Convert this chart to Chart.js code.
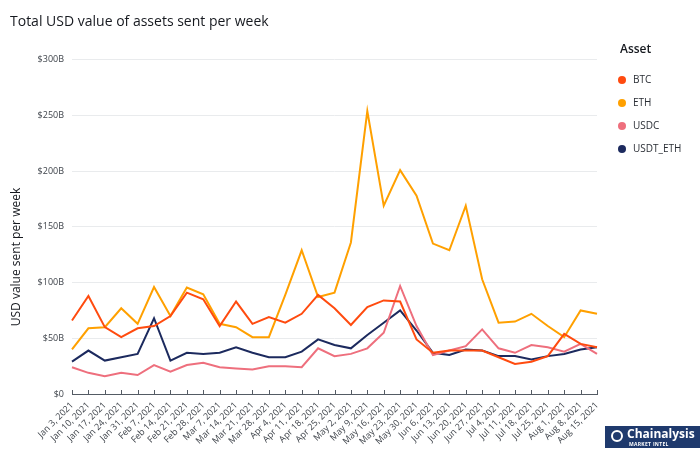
<!DOCTYPE html>
<html>
<head>
<meta charset="utf-8">
<script src="https://cdn.jsdelivr.net/npm/chart.js@4"></script>
<style>
  html, body { margin: 0; padding: 0; background: #ffffff; }
  #wrap { position: relative; width: 700px; height: 451px; overflow: hidden; font-family: "Open Sans", sans-serif; }
  #c { position: absolute; left: 0; top: 0; }
  #legend { position: absolute; left: 620px; top: 40px; color: #16191f; }
  #legend .ttl { font-size: 12px; font-weight: 600; line-height: 18px; margin-bottom: 14px; }
  #legend .item { position: relative; height: 23px; font-size: 10px; line-height: 14px; color: #2a2e35; }
  #legend .dot { position: absolute; left: -2px; top: 3.5px; width: 8px; height: 8px; border-radius: 50%; }
  #legend .lbl { position: absolute; left: 13px; top: 0; white-space: nowrap; }
  #logo { position: absolute; left: 605px; top: 426px; width: 95px; height: 22px; background: #1f3a6d; color: #fff; }
  #logo .icon { position: absolute; left: 6px; top: 4px; width: 12px; height: 12px; border-radius: 50%; border: 2px solid #fff; box-sizing: border-box; }
  #logo .name { position: absolute; left: 22px; top: 1px; font-size: 12px; font-weight: 700; line-height: 14px; white-space: nowrap; }
  #logo .sub { position: absolute; left: 24px; top: 15px; font-size: 5px; font-weight: 700; line-height: 6px; letter-spacing: 0.3px; white-space: nowrap; }
</style>
</head>
<body>
<div id="wrap">
  <canvas id="c" width="700" height="451"></canvas>
  <div id="legend"></div>
  <div id="logo"><div class="icon"></div><div class="name">Chainalysis</div><div class="sub">MARKET INTEL</div></div>
</div>
<script>
const weeks = ["Jan 3, 2021","Jan 10, 2021","Jan 17, 2021","Jan 24, 2021","Jan 31, 2021","Feb 7, 2021","Feb 14, 2021","Feb 21, 2021","Feb 28, 2021","Mar 7, 2021","Mar 14, 2021","Mar 21, 2021","Mar 28, 2021","Apr 4, 2021","Apr 11, 2021","Apr 18, 2021","Apr 25, 2021","May 2, 2021","May 9, 2021","May 16, 2021","May 23, 2021","May 30, 2021","Jun 6, 2021","Jun 13, 2021","Jun 20, 2021","Jun 27, 2021","Jul 4, 2021","Jul 11, 2021","Jul 18, 2021","Jul 25, 2021","Aug 1, 2021","Aug 8, 2021","Aug 15, 2021"];

// values in billions of USD
const btc  = [66, 88, 60, 51, 59, 61, 70, 91, 85, 61, 83, 63, 69, 64, 72, 89, 77, 62, 78, 84, 83, 49, 37, 39, 39, 39, 33, 27, 29, 34, 54, 45, 42];
const eth  = [40, 59, 60, 77, 63, 96, 70, 95.5, 89.5, 63, 60, 51, 51, 89, 129, 87, 91, 136, 254, 169, 201, 178, 135, 129, 169, 103, 64, 65, 72, 61, 51, 75, 72];
const usdc = [24, 19, 16, 19, 17, 26, 20, 26, 28, 24, 23, 22, 25, 25, 24, 41, 34, 36, 41, 55, 97, 61, 35, 39, 43, 58, 41, 37, 44, 42, 38, 45, 36];
const usdt = [29, 39, 30, 33, 36, 68, 30, 37, 36, 37, 42, 37, 33, 33, 38, 49, 44, 41, 53, 64, 75, 57, 37, 35, 40, 39, 34, 34, 31, 34, 36, 40, 42];

const seriesNames = ["BTC", "ETH", "USDC", "USDT_ETH"];
const seriesColors = ["#ff4b0f", "#ffa000", "#ee6f7d", "#1c2a5e"];
const yTicks = [0, 50, 100, 150, 200, 250, 300];

const chartTitle = "Total USD value of assets sent per week";
const yTitle = "USD value sent per week";
const legendTitle = "Asset";

const seriesData = [btc, eth, usdc, usdt];

const tickMarks = {
  id: 'tickMarks',
  afterDraw(chart) {
    const xs = chart.scales.x;
    const ctx = chart.ctx;
    ctx.save();
    ctx.strokeStyle = '#545b64';
    ctx.lineWidth = 1;
    const bottom = chart.chartArea.bottom;
    for (let i = 0; i < xs.ticks.length; i++) {
      const x = Math.round(xs.getPixelForTick(i)) + 0.5;
      ctx.beginPath();
      ctx.moveTo(x, bottom - 4);
      ctx.lineTo(x, bottom);
      ctx.stroke();
    }
    ctx.restore();
  }
};

const yAxisTitle = {
  id: 'yAxisTitle',
  afterDraw(chart) {
    const ctx = chart.ctx;
    ctx.save();
    ctx.translate(17, 257);
    ctx.rotate(-Math.PI / 2);
    ctx.font = '12px "Open Sans"';
    ctx.fillStyle = '#16191f';
    ctx.textAlign = 'center';
    ctx.textBaseline = 'middle';
    ctx.fillText(yTitle, 0, 0);
    ctx.restore();
  }
};

const chart = new Chart(document.getElementById('c'), {
  type: 'line',
  data: {
    labels: weeks,
    datasets: seriesNames.map((n, i) => ({
      label: n,
      data: seriesData[i],
      borderColor: seriesColors[i],
      backgroundColor: seriesColors[i],
      borderWidth: 2,
      pointRadius: 0,
      tension: 0,
      fill: false
    }))
  },
  options: {
    responsive: false,
    animation: false,
    layout: { padding: { left: 10, right: 103, top: 0, bottom: 0 } },
    plugins: {
      legend: { display: false },
      tooltip: { enabled: false },
      title: {
        display: true,
        text: chartTitle,
        align: 'start',
        color: '#16191f',
        font: { family: '"Open Sans"', size: 14, weight: 'normal', lineHeight: 1.2 },
        padding: { top: 14, bottom: 29 }
      }
    },
    scales: {
      x: {
        offset: false,
        grid: { display: false, drawTicks: false },
        border: { display: true, color: '#545b64', width: 1 },
        ticks: {
          autoSkip: false,
          maxRotation: 45,
          minRotation: 45,
          padding: 6,
          color: '#3f444b',
          font: { family: '"Open Sans"', size: 9 }
        },
        afterFit(scale) { scale.height = 57; }
      },
      y: {
        min: 0,
        max: 300,
        afterBuildTicks(scale) { scale.ticks = yTicks.map(v => ({ value: v })); },
        grid: { color: ctx => ctx.tick && ctx.tick.value === 0 ? 'rgba(0,0,0,0)' : '#e9ebed', lineWidth: 1, drawTicks: false },
        border: { display: false },
        ticks: {
          padding: 8,
          color: '#3f444b',
          font: { family: '"Open Sans"', size: 9 },
          callback: v => v === 0 ? '$0' : '$' + v + 'B'
        },
        afterFit(scale) { scale.width = 62; }
      }
    }
  },
  plugins: [tickMarks, yAxisTitle]
});

// HTML legend built from the chart's datasets
const lg = document.getElementById('legend');
const t = document.createElement('div');
t.className = 'ttl';
t.textContent = legendTitle;
lg.appendChild(t);
chart.data.datasets.forEach(ds => {
  const it = document.createElement('div');
  it.className = 'item';
  const d = document.createElement('span');
  d.className = 'dot';
  d.style.background = ds.borderColor;
  const l = document.createElement('span');
  l.className = 'lbl';
  l.textContent = ds.label;
  it.appendChild(d);
  it.appendChild(l);
  lg.appendChild(it);
});
</script>
</body>
</html>
